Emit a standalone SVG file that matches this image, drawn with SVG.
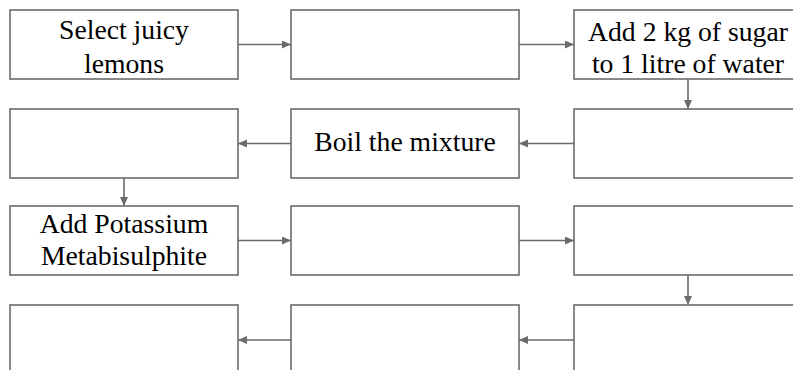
<svg xmlns="http://www.w3.org/2000/svg" width="793" height="370" viewBox="0 0 793 370">
<style>
.box{fill:#ffffff;stroke:#6b6b6b;stroke-width:1.6}
.lbl{font-family:'Liberation Serif','Times New Roman',serif;font-size:27.7px;fill:#000;text-anchor:middle}
.con{stroke:#6b6b6b;stroke-width:1.6;fill:none;marker-end:url(#ah)}
</style>
<defs>
<marker id="ah" markerUnits="userSpaceOnUse" markerWidth="10" markerHeight="9" refX="9" refY="4" orient="auto">
<path d="M0,0 L9,4 L0,8 z" fill="#6b6b6b"/>
</marker>
</defs>
<rect width="793" height="370" fill="#ffffff"/>
<g id="connectors">
<line class="con" x1="238" y1="44.5" x2="291" y2="44.5"/>
<line class="con" x1="519" y1="44.5" x2="574" y2="44.5"/>
<line class="con" x1="688" y1="79" x2="688" y2="109"/>
<line class="con" x1="574" y1="143.5" x2="519" y2="143.5"/>
<line class="con" x1="291" y1="143.5" x2="238" y2="143.5"/>
<line class="con" x1="124" y1="178" x2="124" y2="206"/>
<line class="con" x1="238" y1="240.5" x2="291" y2="240.5"/>
<line class="con" x1="519" y1="240.5" x2="574" y2="240.5"/>
<line class="con" x1="688" y1="275" x2="688" y2="305"/>
<line class="con" x1="574" y1="340" x2="519" y2="340"/>
<line class="con" x1="291" y1="340" x2="238" y2="340"/>
</g>
<g id="n1"><rect class="box" x="10" y="10" width="228" height="69"/><text class="lbl" x="124" y="39">Select juicy</text><text class="lbl" x="124" y="72.5">lemons</text></g>
<g id="n2"><rect class="box" x="291" y="10" width="228" height="69"/></g>
<g id="n3"><rect class="box" x="574" y="10" width="228" height="69"/><text class="lbl" x="688" y="41">Add 2 kg of sugar</text><text class="lbl" x="688" y="73">to 1 litre of water</text></g>
<g id="n4"><rect class="box" x="574" y="109" width="228" height="69"/></g>
<g id="n5"><rect class="box" x="291" y="109" width="228" height="69"/><text class="lbl" x="405" y="151">Boil the mixture</text></g>
<g id="n6"><rect class="box" x="10" y="109" width="228" height="69"/></g>
<g id="n7"><rect class="box" x="10" y="206" width="228" height="69"/><text class="lbl" x="124" y="233">Add Potassium</text><text class="lbl" x="124" y="265">Metabisulphite</text></g>
<g id="n8"><rect class="box" x="291" y="206" width="228" height="69"/></g>
<g id="n9"><rect class="box" x="574" y="206" width="228" height="69"/></g>
<g id="n10"><rect class="box" x="574" y="305" width="228" height="69"/></g>
<g id="n11"><rect class="box" x="291" y="305" width="228" height="69"/></g>
<g id="n12"><rect class="box" x="10" y="305" width="228" height="69"/></g>
</svg>
